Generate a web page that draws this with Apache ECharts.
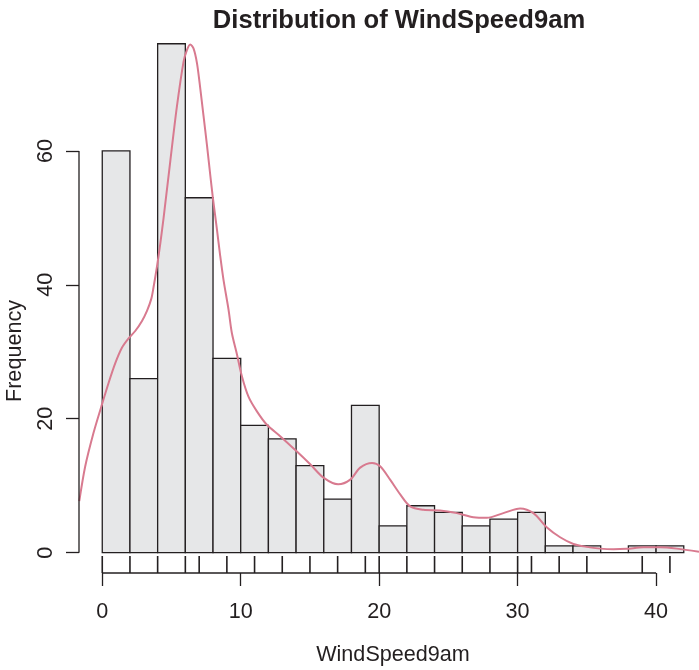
<!DOCTYPE html>
<html>
<head>
<meta charset="utf-8">
<script src="https://cdn.jsdelivr.net/npm/echarts@6/dist/echarts.min.js"></script>
<style>
html,body{margin:0;padding:0;background:#fff;}
#chart{width:699px;height:670px;}
</style>
</head>
<body>
<div id="chart"></div>
<script>
// ---- data ----
const binEdges = [0,2,4,6,8,10,12,14,16,18,20,22,24,26,28,30,32,34,36,38,40,42];
const counts   = [60,26,76,53,29,19,17,13,8,22,4,7,6,4,5,6,1,1,0,1,1];
const rugValues = [0,2,4,6,7,9,11,13,15,17,19,20,22,24,26,28,30,31,33,35,39,41];
const densityX = [-1.66,-1.23,-0.63,-0.07,0.45,0.94,1.42,1.90,2.38,2.87,3.23,3.54,3.70,3.95,4.20,4.43,4.91,5.39,5.87,6.12,6.35,6.59,6.84,7.08,7.31,7.56,7.80,7.99,8.28,8.52,8.76,9.12,9.36,9.73,10.09,10.56,11.17,11.89,12.85,14.06,15.02,15.98,17.04,17.91,18.63,19.49,20.07,20.79,21.52,22.24,23.2,24.4,25.61,26.81,27.78,28.97,30.18,31.14,32.1,33.07,34.03,35.0,35.96,36.92,37.88,39.08,40.29,41.5,43.1];
const densityY = [7.69,12.9,17.9,21.8,25.3,28.3,30.6,32.0,33.1,34.6,36.1,37.9,39.6,42.7,46.3,50.0,58.4,66.6,73.3,75.1,75.9,75.3,73.1,69.3,65.3,60.9,56.4,53.0,48.3,44.3,40.7,36.3,32.8,29.6,26.3,23.3,21.1,19.1,17.4,15.1,13.2,11.2,10.2,10.9,12.7,13.4,12.9,10.9,8.7,6.9,6.4,6.3,5.9,5.3,5.2,5.9,6.6,5.9,3.8,2.3,1.3,0.86,0.6,0.5,0.57,0.8,0.8,0.6,0.12];
const xTicks = [0,10,20,30,40];
const yTicks = [0,20,40,60];
const titleText = 'Distribution of WindSpeed9am';
const xName = 'WindSpeed9am';
const yName = 'Frequency';

// ---- layout / style ----
const FONT = '"Liberation Sans", Arial, Helvetica, sans-serif';
const INK = '#231f20';
const xMin = -1.68, xMax = 43.1;
const yMin = -3.04, yMax = 79.04;

const bars = counts.map((c,i)=>[binEdges[i], binEdges[i+1], c]);
const density = densityX.map((x,i)=>[x, densityY[i]]);

const chart = echarts.init(document.getElementById('chart'), null, {renderer:'canvas'});
chart.setOption({
  animation:false,
  backgroundColor:'#fff',
  title:{
    text:titleText, left:394, top:3, textAlign:'center',
    textStyle:{fontFamily:FONT, fontWeight:'bold', fontSize:25.6, color:INK}
  },
  graphic:[
    {type:'text', x:393, y:655, style:{text:xName, font:'21.6px '+FONT, fill:INK, align:'center', verticalAlign:'middle'}},
    {type:'text', x:15, y:351, rotation:Math.PI/2, style:{text:yName, font:'21.6px '+FONT, fill:INK, align:'center', verticalAlign:'middle'}}
  ],
  grid:{left:79, top:23.4, right:0, height:549.6, containLabel:false, outerBoundsMode:'none'},
  xAxis:{
    type:'value', min:xMin, max:xMax,
    axisLine:{show:false, onZero:false},
    splitLine:{show:false},
    axisTick:{show:true, customValues:xTicks, length:13, lineStyle:{color:INK, width:1.3}},
    axisLabel:{show:true, customValues:xTicks, margin:28, fontFamily:FONT, fontSize:21.6, color:INK}
  },
  yAxis:{
    type:'value', min:yMin, max:yMax,
    axisLine:{show:false, onZero:false},
    splitLine:{show:false},
    axisTick:{show:true, customValues:yTicks, length:13, lineStyle:{color:INK, width:1.3}},
    axisLabel:{show:true, customValues:yTicks, rotate:90, margin:22, fontFamily:FONT, fontSize:21.6, color:INK}
  },
  series:[
    {
      type:'custom', name:'hist', data:bars,
      renderItem:function(params, api){
        const p0 = api.coord([api.value(0), 0]);
        const p1 = api.coord([api.value(1), api.value(2)]);
        return {type:'rect', shape:{x:p0[0], y:p1[1], width:p1[0]-p0[0], height:p0[1]-p1[1]},
          style:{fill:'#e6e7e8', stroke:INK, lineWidth:1.3}};
      }
    },
    {
      type:'line', name:'density', data:density, smooth:0.3, showSymbol:false, symbol:'none',
      lineStyle:{color:'#d87a8f', width:2}, clip:true, z:3
    },
    {
      type:'custom', name:'rug', data:rugValues.map(v=>[v]),
      renderItem:function(params, api){
        const p = api.coord([api.value(0), yMin]);
        return {type:'line', shape:{x1:p[0], y1:p[1], x2:p[0], y2:p[1]-17},
          style:{stroke:INK, lineWidth:1.6}};
      }, z:4
    },
    {
      type:'custom', name:'axes', data:[[0]],
      renderItem:function(params, api){
        const a = api.coord([xTicks[0], yMin]);
        const b = api.coord([xTicks[xTicks.length-1], yMin]);
        const c = api.coord([xMin, yTicks[0]]);
        const d = api.coord([xMin, yTicks[yTicks.length-1]]);
        return {type:'group', children:[
          {type:'line', shape:{x1:a[0], y1:a[1], x2:b[0], y2:b[1]}, style:{stroke:INK, lineWidth:1.3}},
          {type:'line', shape:{x1:c[0], y1:c[1], x2:d[0], y2:d[1]}, style:{stroke:INK, lineWidth:1.3}}
        ]};
      }, z:5
    }
  ]
});
</script>
</body>
</html>
